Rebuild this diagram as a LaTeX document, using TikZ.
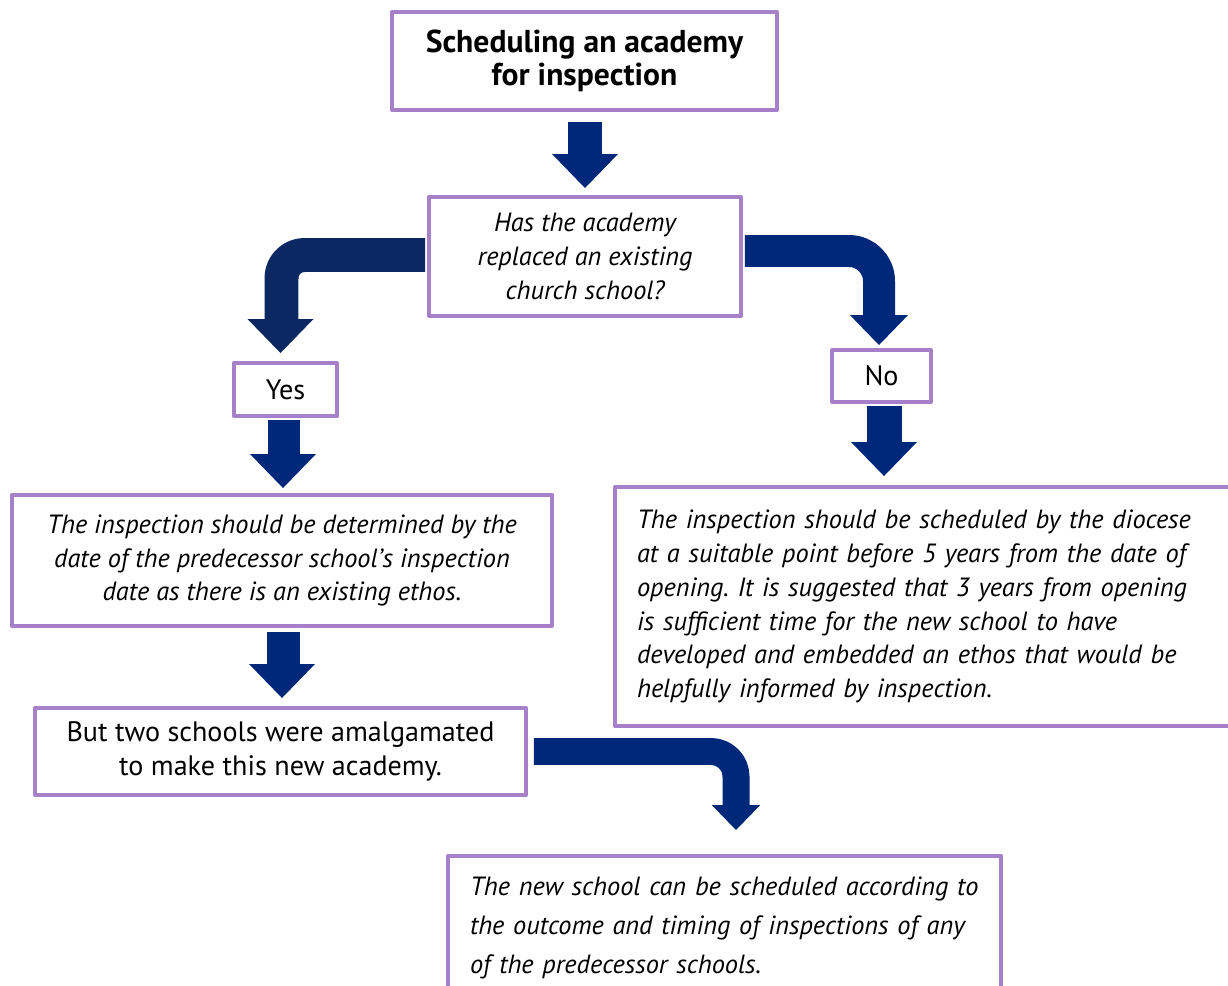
\documentclass[tikz,border=0pt]{standalone}
\usepackage{fontspec}
\setmainfont{PT Sans}
\frenchspacing
\definecolor{vien}{HTML}{A680C8}
\definecolor{xanhdam}{HTML}{00287A}
\definecolor{xanhtoi}{HTML}{0C2862}
\begin{document}
\begin{tikzpicture}[x=0.02cm,y=-0.02cm, line join=round, >=stealth]
			%%%%%%%%%STYLE
			\tikzset{hop/.style={draw=vien,line width=2.27pt,fill=white,inner sep=0pt},
				chu/.style={font=\itshape\fontsize{15}{19.3}\selectfont},
				thanh/.style={xanhdam,line width=0.68cm},
				dau/.pic={\fill(0,0)--(-33,-34)--(33,-34)--cycle;}
			}
			\useasboundingbox(0,0)rectangle(1228,986);
			\clip(0,0)rectangle(1228,986);
			%%%%%%%%%%%%%%%%%%%HOP
			\node[hop,minimum width=7.7cm,minimum height=1.96cm,align=center,font=\bfseries\fontsize{18}{18.8}\selectfont](tieude) at (584.5,61){Scheduling an academy\\for inspection};
			\node[hop,chu,minimum width=6.24cm,minimum height=2.38cm,align=center](cauhoi) at (585,256.5){Has the academy\\replaced an existing\\church school?};
			\node[hop,minimum width=2.06cm,minimum height=1.06cm,font=\fontsize{16}{17}\selectfont](co) at (285.5,389.5){Yes};
			\node[hop,minimum width=1.98cm,minimum height=1.04cm,font=\fontsize{16}{17}\selectfont](khong) at (881.5,376){No};
			\node[hop,chu,minimum width=10.8cm,minimum height=2.62cm,align=center](traitrai) at (282,560.5){The inspection should be determined by the\\date of the predecessor school's inspection\\date as there is an existing ethos.};
			\node[hop,chu,minimum width=12.66cm,minimum height=4.78cm,inner xsep=0.44cm,text width=11.78cm,align=left](traiphai) at (931.5,606.5){The inspection should be scheduled by the diocese\\at a suitable point before 5 years from the date of\\opening. It is suggested that 3 years from opening\\is sufficient time for the new school to have\\developed and embedded an ethos that would be\\helpfully informed by inspection.};
			\node[hop,minimum width=9.82cm,minimum height=1.74cm,align=center,font=\fontsize{16}{19.3}\selectfont](gop) at (280.5,751.5){But two schools were amalgamated\\to make this new academy.};
			\node[hop,font=\itshape\fontsize{15}{22.2}\selectfont,anchor=north,minimum width=11.06cm,inner xsep=0.44cm,inner ysep=0.42cm,text width=10.18cm,align=left](duoi) at (724.5,854){The new school can be scheduled according to\\the outcome and timing of inspections of any\\of the predecessor schools.};
			%%%%%%%%%%%%%%%%%%%MUI TEN
			\draw[thanh]([yshift=-0.2cm]tieude.south)--([yshift=0.7cm]tieude.south|-cauhoi.north);
			\path([yshift=0.14cm]cauhoi.north)pic[xanhdam]{dau};
			% re trai
			\draw[thanh,xanhtoi,rounded corners=0.46cm]([xshift=-0.04cm,yshift=0.03cm]cauhoi.west)-|([xshift=-0.08cm,yshift=0.76cm]co.north);
			\path([xshift=-0.1cm,yshift=0.16cm]co.north)pic[xanhtoi]{dau};
			% re phai
			\draw[thanh,line width=0.64cm,rounded corners=0.6cm]([xshift=0.04cm,yshift=0.11cm]cauhoi.east)-|([xshift=-0.05cm,yshift=0.6cm]khong.north);
			\path([xshift=-0.05cm,yshift=0.06cm]khong.north)pic[xanhdam,scale=0.88]{dau};
			% xuong
			\draw[thanh,line width=0.64cm]([xshift=-0.03cm,yshift=-0.04cm]co.south)--([xshift=-0.03cm,yshift=0.74cm]co.south|-traitrai.north);
			\path([xshift=-0.05cm,yshift=0.1cm]co.south|-traitrai.north)pic[xanhdam]{dau};
			\draw[thanh,line width=0.7cm]([xshift=0.05cm,yshift=-0.04cm]khong.south)--([xshift=0.05cm,yshift=0.78cm]khong.south|-traiphai.north);
			\path([xshift=0.05cm,yshift=0.18cm]khong.south|-traiphai.north)pic[xanhdam]{dau};
			\draw[thanh,line width=0.66cm]([xshift=0.03cm,yshift=-0.08cm]traitrai.south)--([xshift=0.03cm,yshift=0.8cm]traitrai.south|-gop.north);
			\path([yshift=0.16cm]traitrai.south|-gop.north)pic[xanhdam]{dau};
			% re xuong duoi
			\draw[thanh,line width=0.54cm,rounded corners=0.5cm]([xshift=0.12cm]gop.east)-|([xshift=0.23cm,yshift=0.94cm]duoi.north);
			\path([xshift=0.23cm,yshift=0.48cm]duoi.north)pic[xanhdam,scale=0.73]{dau};
\end{tikzpicture}
\end{document}
